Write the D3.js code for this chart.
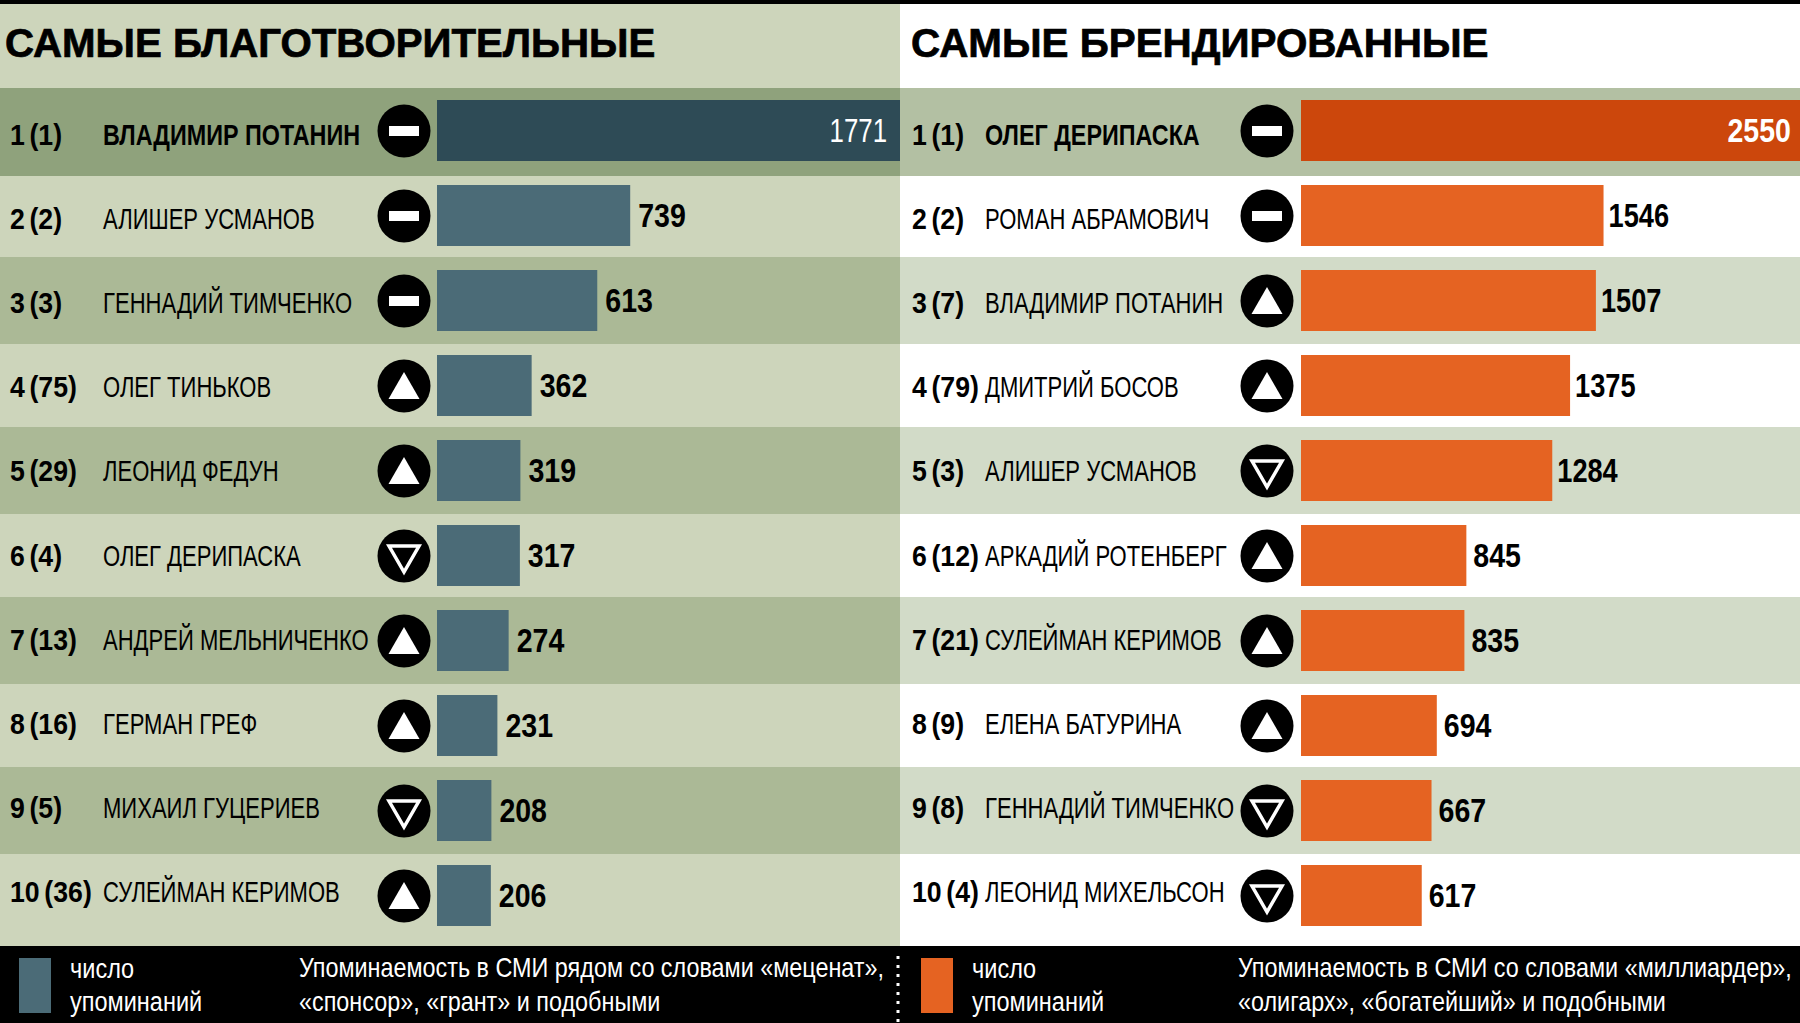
<!DOCTYPE html>
<html><head><meta charset="utf-8">
<script src="https://cdn.jsdelivr.net/npm/d3@7"></script>
<style>html,body{margin:0;padding:0;background:#fff}svg{display:block}
text{font-family:"Liberation Sans",sans-serif}</style></head>
<body><svg id="c" width="1800" height="1023"></svg>
<script>
const leftNames=["ВЛАДИМИР ПОТАНИН","АЛИШЕР УСМАНОВ","ГЕННАДИЙ ТИМЧЕНКО","ОЛЕГ ТИНЬКОВ","ЛЕОНИД ФЕДУН","ОЛЕГ ДЕРИПАСКА","АНДРЕЙ МЕЛЬНИЧЕНКО","ГЕРМАН ГРЕФ","МИХАИЛ ГУЦЕРИЕВ","СУЛЕЙМАН КЕРИМОВ"];
const leftRanks=["1 (1)","2 (2)","3 (3)","4 (75)","5 (29)","6 (4)","7 (13)","8 (16)","9 (5)","10 (36)"];
const leftValues=[1771,739,613,362,319,317,274,231,208,206];
const leftChange=["same","same","same","up","up","down","up","up","down","up"];
const rightNames=["ОЛЕГ ДЕРИПАСКА","РОМАН АБРАМОВИЧ","ВЛАДИМИР ПОТАНИН","ДМИТРИЙ БОСОВ","АЛИШЕР УСМАНОВ","АРКАДИЙ РОТЕНБЕРГ","СУЛЕЙМАН КЕРИМОВ","ЕЛЕНА БАТУРИНА","ГЕННАДИЙ ТИМЧЕНКО","ЛЕОНИД МИХЕЛЬСОН"];
const rightRanks=["1 (1)","2 (2)","3 (7)","4 (79)","5 (3)","6 (12)","7 (21)","8 (9)","9 (8)","10 (4)"];
const rightValues=[2550,1546,1507,1375,1284,845,835,694,667,617];
const rightChange=["same","same","up","up","down","up","up","up","down","down"];
const rowEdges=[88,176,257,344,427,514,597,684,767,854,946];

const svg=d3.select("#c");
svg.append("rect").attr("width",1800).attr("height",1023).attr("fill","#fff");
svg.append("rect").attr("width",900).attr("height",946).attr("fill","#cdd5bb");
svg.append("rect").attr("y",946).attr("width",1800).attr("height",77).attr("fill","#000");

const idx=d3.range(10);
const barY=d3.scaleLinear().domain([0,9]).range([100,865]);
const nameY=d3.scaleLinear().domain([0,9]).range([145,902]);
const narrow=(x,y,s)=>`translate(${x},${y}) scale(${s},1)`;

function panel(o){
  const g=svg.append("g");
  const x=d3.scaleLinear().domain([0,o.values[0]]).range([o.x0,o.x1]);
  g.selectAll(".row").data(idx).join("rect")
    .attr("x",o.px).attr("width",900).attr("y",i=>rowEdges[i]).attr("height",i=>rowEdges[i+1]-rowEdges[i])
    .attr("fill",i=>i===0?o.topRow:(i%2?o.oddRow:o.evenRow));
  g.selectAll(".bar").data(idx).join("rect")
    .attr("x",o.x0).attr("y",i=>barY(i)).attr("height",61)
    .attr("width",i=>x(o.values[i])-o.x0).attr("fill",i=>i===0?o.topBar:o.bar);
  g.selectAll(".rank").data(idx).join("text")
    .attr("transform",i=>narrow(o.rankX,nameY(i),.92)).attr("font-size",29).attr("font-weight",700).attr("fill","#000")
    .attr("word-spacing",-3).text(i=>o.ranks[i]);
  g.selectAll(".name").data(idx).join("text")
    .attr("transform",i=>narrow(o.nameX,nameY(i),i===0?.805:.76)).attr("font-size",29).attr("font-weight",i=>i===0?700:400).attr("fill","#000")
    .text(i=>o.names[i]);
  g.selectAll(".val").data(idx).join("text")
    .attr("transform",i=>narrow(i===0?o.x1-o.topInset:x(o.values[i])+(o.values[i]>=1000?o.valGap4:o.valGap3),barY(i)+42,i===0?o.topScale:(o.values[i]>=1000?.8:.84)))
    .attr("text-anchor",i=>i===0?"end":"start")
    .attr("font-size",34).attr("font-weight",i=>i===0?o.topWeight:700)
    .attr("fill",i=>i===0?"#fff":"#000").text(i=>o.values[i]);
  const c=g.selectAll(".ic").data(idx).join("g").attr("transform",i=>`translate(${o.cx},${barY(i)+31})`);
  c.append("circle").attr("r",26.5).attr("fill","#000");
  c.filter(i=>o.change[i]==="same").append("rect").attr("x",-15).attr("y",-5).attr("width",30).attr("height",10).attr("fill","#fff");
  c.filter(i=>o.change[i]==="up").append("path").attr("d",d3.line()([[0,-14],[15.5,13],[-15.5,13]])+"Z").attr("fill","#fff");
  c.filter(i=>o.change[i]==="down").append("path").attr("d",d3.line()([[-15,-10],[15,-10],[0,16]])+"Z").attr("fill","none").attr("stroke","#fff").attr("stroke-width",3.5);
}
panel({px:0,x0:437,x1:900,rankX:10,nameX:103,cx:404,values:leftValues,names:leftNames,ranks:leftRanks,change:leftChange,
  topRow:"#8fa27c",oddRow:"#cdd5bb",evenRow:"#abb996",bar:"#4b6b77",topBar:"#2e4b56",valGap3:8,valGap4:5,topInset:13,topScale:.76,topWeight:400});
panel({px:900,x0:1301,x1:1800,rankX:912,nameX:985,cx:1267,values:rightValues,names:rightNames,ranks:rightRanks,change:rightChange,
  topRow:"#b3c0a3",oddRow:"#fff",evenRow:"#d2dbc8",bar:"#e56322",topBar:"#cc470c",valGap3:7,valGap4:5,topInset:9,topScale:.84,topWeight:700});

svg.append("rect").attr("width",1800).attr("height",4).attr("fill","#000");
const heads=[[5,"САМЫЕ БЛАГОТВОРИТЕЛЬНЫЕ",1.006],[911,"САМЫЕ БРЕНДИРОВАННЫЕ",1.01]];
heads.forEach(h=>svg.append("text").attr("transform",narrow(h[0],57,h[2])).attr("font-size",40).attr("font-weight",700)
  .attr("stroke","#000").attr("stroke-width",.7).text(h[1]));

function foot(rx,color,tx,lx,l1,l2){
  svg.append("rect").attr("x",rx).attr("y",958).attr("width",32).attr("height",55).attr("fill",color);
  [["число",978],["упоминаний",1011]].forEach(d=>svg.append("text").attr("transform",narrow(tx,d[1],.84)).attr("font-size",28).attr("fill","#fff").text(d[0]));
  svg.append("text").attr("transform",narrow(lx,977,.835)).attr("font-size",28).attr("fill","#fff").text(l1);
  svg.append("text").attr("transform",narrow(lx,1011,.835)).attr("font-size",28).attr("fill","#fff").text(l2);
}
foot(19,"#4b6b77",70,299,"Упоминаемость в СМИ рядом со словами «меценат»,","«спонсор», «грант» и подобными");
foot(921,"#e56322",972,1238,"Упоминаемость в СМИ со словами «миллиардер»,","«олигарх», «богатейший» и подобными");
svg.append("line").attr("x1",898).attr("x2",898).attr("y1",956).attr("y2",1023).attr("stroke","#fff").attr("stroke-width",3).attr("stroke-dasharray","3 6");
</script></body></html>
